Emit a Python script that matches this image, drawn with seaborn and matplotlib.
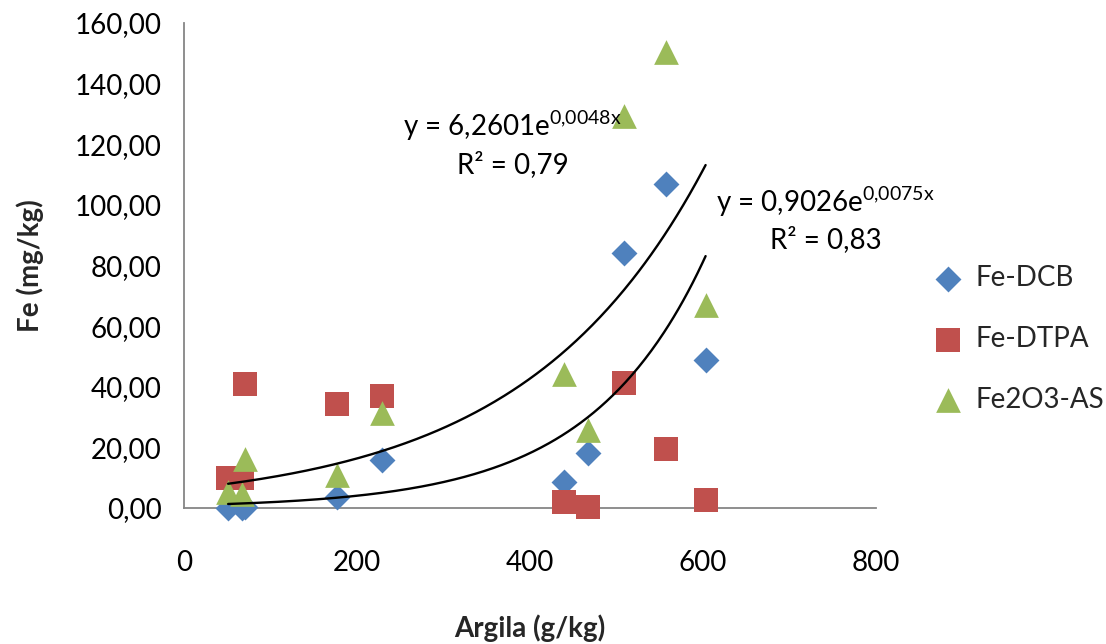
import numpy as np
import pandas as pd
import matplotlib
matplotlib.use("Agg")
import matplotlib.pyplot as plt
import seaborn as sns
from matplotlib.ticker import FuncFormatter, FixedLocator

# ---------------- data ----------------
argila = [51, 67, 70, 177, 229, 439, 467, 509, 557, 603]           # g/kg
fe_dcb = [0.0, 0.0, 0.3, 3.6, 15.8, 8.6, 18.1, 84.1, 106.9, 48.8]   # mg/kg
fe_dtpa = [9.9, 9.9, 40.9, 34.3, 37.0, 2.0, 0.3, 41.2, 19.5, 2.6]
fe2o3_as = [5.3, 4.5, 16.2, 10.9, 31.3, 44.2, 25.7, 129.3, 150.4, 67.0]
series_names = ["Fe-DCB", "Fe-DTPA", "Fe2O3-AS"]

# exponential trend lines y = a * exp(b * x)
trend_upper = (6.2601, 0.0048)
trend_lower = (0.9026, 0.0075)
eq_upper = (r"y = 6,2601e$^{\mathregular{0{,}0048x}}$", "R² = 0,79")
eq_lower = (r"y = 0,9026e$^{\mathregular{0{,}0075x}}$", "R² = 0,83")

x_ticks = [0, 200, 400, 600, 800]
y_ticks = [0, 20, 40, 60, 80, 100, 120, 140, 160]
x_label = "Argila (g/kg)"
y_label = "Fe (mg/kg)"

# ---------------- style ----------------
sns.set_theme(style="white")
plt.rcParams["font.family"] = ["Lato", "DejaVu Sans"]
plt.rcParams["mathtext.fontset"] = "custom"
plt.rcParams["mathtext.rm"] = "Lato"
plt.rcParams["mathtext.it"] = "Lato"

colors = ["#4F81BD", "#C0504D", "#9BBB59"]
markers = ["D", "s", "^"]
msizes = [13.2, 17.0, 17.8]   # points
FS = 20
axis_grey = "#868686"

fig = plt.figure(figsize=(11.06, 6.44), dpi=100)
ax = fig.add_axes([184 / 1106, 1 - 508 / 644, (876 - 184) / 1106, (508 - 23) / 644])

df = pd.DataFrame({"argila": argila, series_names[0]: fe_dcb,
                   series_names[1]: fe_dtpa, series_names[2]: fe2o3_as})
long = df.melt(id_vars="argila", var_name="serie", value_name="fe")

for name, c, m, ms in zip(series_names, colors, markers, msizes):
    sub = long[long["serie"] == name]
    sns.scatterplot(data=sub, x="argila", y="fe", ax=ax, color=c, marker=m,
                    s=ms ** 2, linewidth=0, label=name, zorder=3, clip_on=False)

# trend lines
xs = np.linspace(min(argila), max(argila), 300)
for a, b in (trend_upper, trend_lower):
    sns.lineplot(x=xs, y=a * np.exp(b * xs), ax=ax, color="black", lw=1.7,
                 zorder=4, legend=False)

# equations
for (l1, l2), (xc, y1, y2) in zip((eq_upper, eq_lower),
                                  ((379, 126.0, 113.3), (741, 101.0, 88.6))):
    ax.text(xc, y1, l1, ha="center", va="center", fontsize=FS, color="black",
            clip_on=False, zorder=5)
    ax.text(xc + 1, y2, l2, ha="center", va="center", fontsize=FS, color="black",
            clip_on=False, zorder=5)

ax.set_xlim(0, 800)
ax.set_ylim(0, 160)
ax.xaxis.set_major_locator(FixedLocator(x_ticks))
ax.yaxis.set_major_locator(FixedLocator(y_ticks))
ax.yaxis.set_major_formatter(FuncFormatter(lambda v, p: f"{v:.2f}".replace(".", ",")))
ax.xaxis.set_major_formatter(FuncFormatter(lambda v, p: f"{v:.0f}"))

for s in ("top", "right"):
    ax.spines[s].set_visible(False)
for s in ("left", "bottom"):
    ax.spines[s].set_color(axis_grey)
    ax.spines[s].set_linewidth(1.3)
ax.tick_params(axis="both", which="major", direction="out", length=7, width=1.3,
               color=axis_grey, labelsize=FS, labelcolor="black")
ax.tick_params(axis="y", pad=9)
ax.tick_params(axis="x", pad=23)
ax.grid(False)

ax.set_xlabel(x_label, fontsize=FS, fontweight="bold", labelpad=28)
ax.set_ylabel(y_label, fontsize=FS, fontweight="bold", labelpad=22)

leg = ax.legend(loc="center left", bbox_to_anchor=(931 / 1106, 1 - 339 / 644),
                bbox_transform=fig.transFigure, frameon=False, fontsize=FS,
                handletextpad=0.4, labelspacing=1.25, handlelength=1.2,
                borderpad=0, borderaxespad=0)

fig.savefig("out.png", dpi=100, facecolor="white")
